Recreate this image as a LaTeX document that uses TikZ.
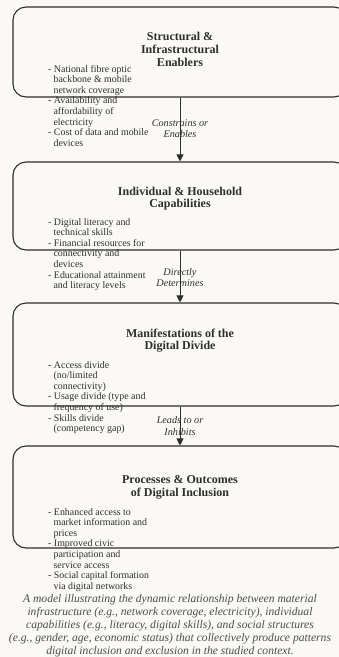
\documentclass[tikz,border=0pt]{standalone}
\usepackage{fontspec}
\setmainfont{Liberation Serif}
\usetikzlibrary{arrows.meta}
\definecolor{paper}{HTML}{FAF9F6}
\definecolor{ink}{HTML}{2E2E2E}
\newcommand{\cont}{\hspace*{5.4pt}}
\tikzset{
  stage/.style={draw=ink, line width=1.1pt, rounded corners=13pt, fill=paper},
  head/.style={font=\bfseries\fontsize{12}{12.7}\selectfont, align=center, text=ink},
  items/.style={font=\fontsize{9.9}{10.6}\selectfont, align=left, anchor=north west, text=ink, inner sep=0pt},
  link/.style={draw=ink, line width=0.9pt, -{Triangle[length=7pt,width=7pt]}},
  linklabel/.style={font=\itshape\fontsize{10.2}{11.4}\selectfont, align=center, text=ink, inner sep=0pt}
}
\begin{document}
\begin{tikzpicture}[x=1pt,y=-1pt]
\fill[paper] (0,0) rectangle (339,657);
\useasboundingbox (0,0) rectangle (339,657);
% the four stages
\node[stage, minimum width=334, minimum height=90] (b1) at (180,52) {};
\node[stage, minimum width=334, minimum height=88] (b2) at (180,206) {};
\node[stage, minimum width=334, minimum height=103] (b3) at (180,354.5) {};
\node[stage, minimum width=334, minimum height=102] (b4) at (180,497) {};
% links between the stages
\draw[link] (b1.south) -- (b2.north);
\draw[link] (b2.south) -- (b3.north);
\draw[link] (b3.south) -- (b4.north);
\node[linklabel] (l1) at (180,128.5) {Constrains or\\Enables};
\node[linklabel] (l2) at (180,277.5) {Directly\\Determines};
\node[linklabel] (l3) at (180,426) {Leads to or\\Inhibits};
% titles
\node[head] (t1) at (180,49.5) {Structural \&\\Infrastructural\\Enablers};
\node[head] (t2) at (180,198.5) {Individual \& Household\\Capabilities};
\node[head] (t3) at (180,340.5) {Manifestations of the\\Digital Divide};
\node[head] (t4) at (180,487.5) {Processes \& Outcomes\\of Digital Inclusion};
% factor lists
\node[items] (f1) at (48,65) {- National fibre optic\\\cont backbone \& mobile\\\cont network coverage\\- Availability and\\\cont affordability of\\\cont electricity\\- Cost of data and mobile\\\cont devices};
\node[items] (f2) at (48,218) {- Digital literacy and\\\cont technical skills\\- Financial resources for\\\cont connectivity and\\\cont devices\\- Educational attainment\\\cont and literacy levels};
\node[items] (f3) at (48,361) {- Access divide\\\cont (no/limited\\\cont connectivity)\\- Usage divide (type and\\\cont frequency of use)\\- Skills divide\\\cont (competency gap)};
\node[items] (f4) at (48,508) {- Enhanced access to\\\cont market information and\\\cont prices\\- Improved civic\\\cont participation and\\\cont service access\\- Social capital formation\\\cont via digital networks};
% caption
\node[font=\itshape\fontsize{11.6}{13.1}\selectfont, align=center, text=ink!85, inner sep=0pt] (cap) at (170,625.5) {A model illustrating the dynamic relationship between material\\infrastructure (e.g., network coverage, electricity), individual\\capabilities (e.g., literacy, digital skills), and social structures\\(e.g., gender, age, economic status) that collectively produce patterns\\digital inclusion and exclusion in the studied context.};
\end{tikzpicture}
\end{document}
